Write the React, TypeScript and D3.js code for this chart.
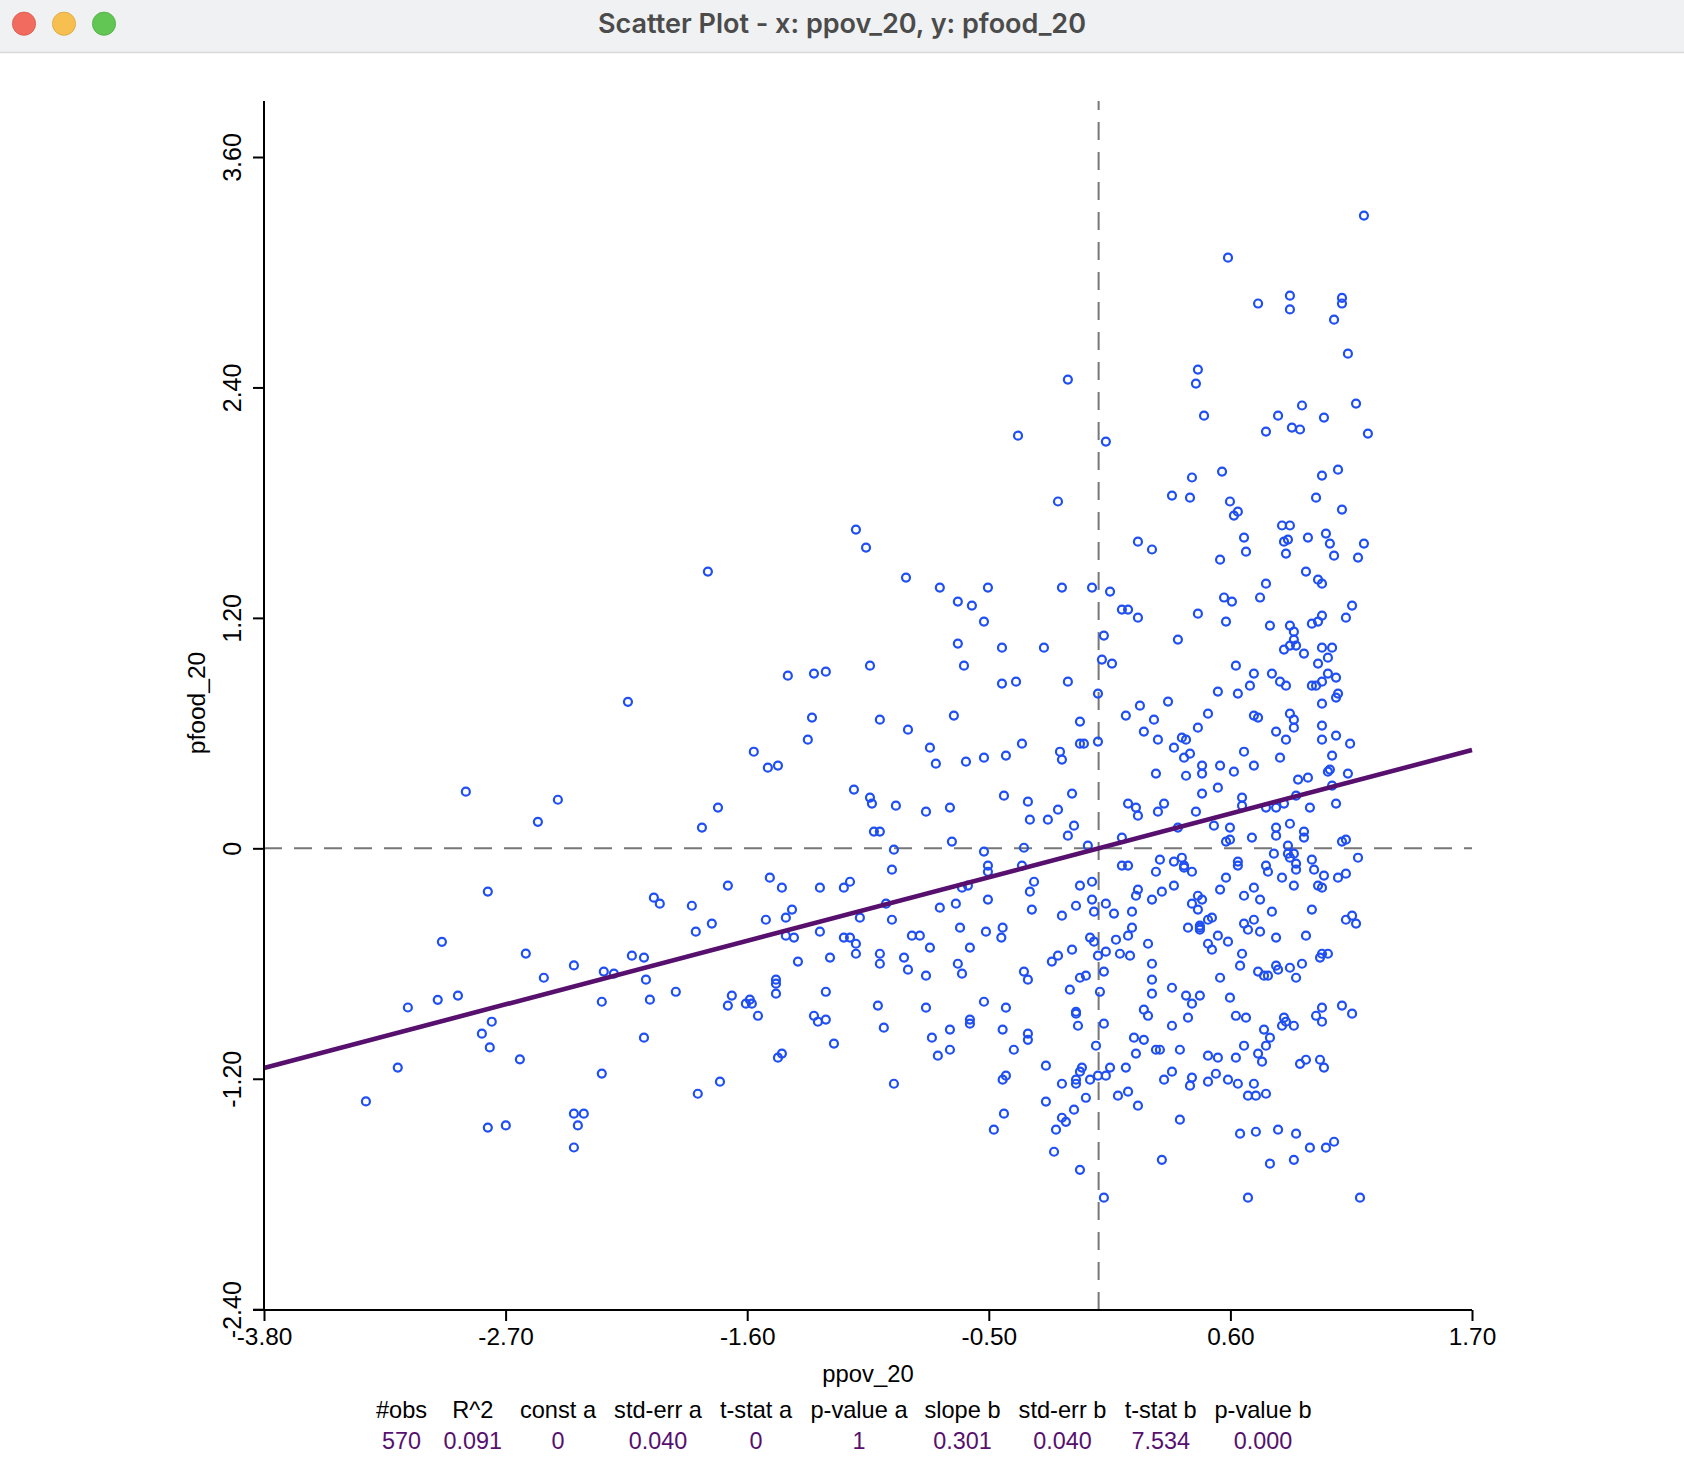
import React, { useEffect, useRef } from 'react';
import * as d3 from 'd3';

const title = 'Scatter Plot - x: ppov_20, y: pfood_20';
const xTicks = [-3.8, -2.7, -1.6, -0.5, 0.6, 1.7];
const yTicks = [-2.4, -1.2, 0, 1.2, 2.4, 3.6];
const statNames = ['#obs', 'R^2', 'const a', 'std-err a', 't-stat a', 'p-value a', 'slope b', 'std-err b', 't-stat b', 'p-value b'];
const statValues = ['570', '0.091', '0', '0.040', '0', '1', '0.301', '0.040', '7.534', '0.000'];
const slope = 0.301;

// [ppov_20, pfood_20]
const observations: [number, number][] = [
  [1.208,3.295],[.589,3.076],[.871,2.878],[.726,2.837],[.871,2.806],[1.108,2.866],[1.108,2.837],[1.072,2.753],[1.135,2.576],[.452,2.493],
  [-.140,2.441],[.443,2.420],[.926,2.306],[1.172,2.316],[.480,2.253],[.817,2.253],[1.026,2.243],[.880,2.191],[.917,2.181],[.762,2.170],
  [1.226,2.160],[-.367,2.149],[.033,2.118],[1.090,1.972],[.562,1.962],[.425,1.931],[1.017,1.941],[.334,1.837],[.416,1.826],[.990,1.826],
  [-.185,1.806],[.598,1.806],[.634,1.753],[.616,1.733],[1.108,1.764],[.835,1.681],[.871,1.681],[1.035,1.639],[.662,1.618],[.844,1.597],
  [.862,1.608],[.953,1.618],[1.053,1.587],[1.208,1.587],[.179,1.597],[.243,1.556],[.671,1.545],[.853,1.535],[1.072,1.524],[1.181,1.514],
  [.553,1.503],[.944,1.441],[.999,1.399],[1.017,1.378],[.762,1.378],[-.167,1.358],[-.030,1.358],[.052,1.337],[.571,1.306],[.607,1.285],
  [.735,1.306],[.106,1.243],[.134,1.243],[.179,1.201],[.452,1.222],[.580,1.181],[1.154,1.264],[1.126,1.201],[1.017,1.212],[.999,1.181],
  [.971,1.170],[.780,1.160],[.871,1.160],[.889,1.128],[.024,1.108],[.361,1.087],[.889,1.087],[.871,1.056],[.899,1.056],[.844,1.035],
  [1.017,1.045],[1.063,1.045],[.935,1.014],[1.044,.993],[.999,.962],[.625,.951],[-.249,1.045],[-.440,1.045],[.015,.983],[.061,.962],
  [.707,.910],[.789,.910],[.826,.868],[.853,.847],[1.044,.910],[1.081,.889],[1.017,.868],[.971,.847],[.990,.847],[.689,.847],
  [-.376,.868],[-.140,.868],[-.440,.858],[.543,.816],[.634,.806],[-.003,.806],[1.090,.806],[1.081,.785],[1.017,.753],[.316,.764],
  [.188,.743],[.124,.691],[.498,.701],[.252,.670],[.707,.691],[.726,.681],[.871,.701],[.889,.670],[-.085,.660],[.889,.628],
  [1.017,.639],[.452,.628],[.206,.608],[.808,.608],[.270,.566],[.379,.576],[.398,.566],[.853,.566],[1.017,.566],[1.081,.587],
  [1.145,.545],[-.349,.545],[-.085,.545],[-.067,.545],[-.003,.556],[.343,.524],[-.176,.503],[.662,.503],[-.422,.483],[.416,.493],
  [.389,.472],[-.167,.462],[.826,.472],[1.063,.483],[.471,.431],[.553,.431],[.707,.431],[.616,.399],[.471,.389],[.398,.378],
  [.261,.389],[1.053,.410],[1.044,.399],[.908,.358],[.953,.368],[1.135,.389],[.543,.316],[.471,.285],[1.063,.326],[-.431,.274],
  [-.121,.285],[.899,.274],[.653,.264],[-.322,.243],[.134,.233],[.298,.233],[.653,.222],[.844,.233],[.170,.212],[.762,.212],
  [.808,.212],[1.081,.233],[.962,.212],[-.185,.201],[.270,.191],[.443,.191],[.179,.170],[-.313,.149],[-.231,.149],[-.112,.118],
  [.525,.118],[.361,.108],[.598,.108],[.871,.128],[.808,.108],[.935,.087],
  [-.140,.066],[.106,.056],[-.049,.014],[-.340,.003],[-.349,-.090],[.808,.066],[.935,.056],[.698,.056],[.598,.045],[.580,.035],
  [1.126,.045],[1.108,.035],[.862,.014],[.798,-.028],[.889,-.028],[.862,-.028],[.871,-.049],[.899,-.080],[.971,-.059],[1.181,-.049],
  [.899,-.111],[.981,-.111],[.762,-.090],[.771,-.122],[.634,-.069],[.634,-.090],[.379,-.049],[.279,-.059],[.343,-.069],[.389,-.090],
  [.389,-.101],[.425,-.122],[.261,-.122],[.106,-.090],[.134,-.090],[1.126,-.132],[1.090,-.153],[1.026,-.142],[.835,-.153],[.580,-.153],
  [.889,-.194],[.999,-.194],[1.017,-.205],[.707,-.205],[.553,-.215],[.343,-.194],[.288,-.226],[.179,-.215],[.170,-.247],[-.030,-.174],
  [-.085,-.194],[-.294,-.174],[-.313,-.226],[.662,-.247],[.452,-.247],[.471,-.267],[.425,-.288],[.243,-.267],[.735,-.267],[-.030,-.267],
  [.033,-.288],[-.103,-.299],[.452,-.319],[-.304,-.319],[.152,-.330],[-.021,-.330],[.070,-.340],[-.167,-.351],[.789,-.330],[.971,-.319],
  [1.154,-.351],[1.126,-.372],[1.172,-.392],[.707,-.372],[.516,-.361],[.498,-.372],[.662,-.392],[.680,-.424],[.461,-.403],[.461,-.413],
  [.461,-.424],[.407,-.413],[.152,-.413],[.735,-.434],[.543,-.455],[.134,-.455],[.808,-.465],[.944,-.455],[-.437,-.413],[-.443,-.465],
  [-.039,-.465],[-.021,-.486],[.079,-.476],[.589,-.486],[.498,-.497],[.225,-.497],[.516,-.528],[-.121,-.528],[.033,-.538],[.097,-.549],
  [.143,-.559],[-.003,-.559],[-.185,-.559],[-.213,-.590],[.653,-.549],[1.044,-.549],[1.017,-.549],[1.008,-.569],[.926,-.601],[.243,-.601],
  [.644,-.611],[.808,-.611],[.817,-.632],[.871,-.622],[.726,-.642],[.753,-.663],[.771,-.663],[.899,-.674],[-.340,-.642],[-.322,-.684],
  [.024,-.642],[-.058,-.663],[-.085,-.674],[.243,-.684],[.553,-.674],[-.131,-.736],[.006,-.747],[.334,-.726],[.243,-.757],[.398,-.767],
  [.461,-.767],[.598,-.778],[.425,-.809],[-.422,-.830],[.206,-.840],[.225,-.872],[.407,-.882],[-.103,-.851],[-.103,-.861],[.625,-.872],
  [.671,-.882],[.844,-.882],[.853,-.903],[.835,-.924],[.889,-.924],[1.017,-.830],[.990,-.872],[1.017,-.903],[1.108,-.819],[1.154,-.861],
  [-.094,-.924],[.024,-.913],[.334,-.924],[-.437,-.944],[.753,-.944],[.780,-.986],[-.322,-.965],[-.322,-.997],[.161,-.986],[.206,-.997],
  [.762,-1.028],[.662,-1.028],[-.012,-1.028],[-.386,-1.049],[.261,-1.049],[.279,-1.049],[.370,-1.049],[.170,-1.069],[.726,-1.069],[.498,-1.080],
  [.543,-1.090],[.625,-1.090],[.744,-1.111],[.917,-1.122],[.944,-1.101],[1.008,-1.101],[1.026,-1.142],[-.240,-1.132],[-.076,-1.142],[-.085,-1.163],
  [.052,-1.142],[.124,-1.142],[-.422,-1.184],[-.437,-1.205],[-.103,-1.205],[-.003,-1.184],[.033,-1.184],[-.039,-1.205],[-.167,-1.226],[-.103,-1.226],
  [.334,-1.163],[.298,-1.205],[.425,-1.194],[.416,-1.236],[.498,-1.215],[.534,-1.174],[.589,-1.205],[.634,-1.226],[.707,-1.226],[.680,-1.288],
  [.716,-1.288],[.762,-1.278],[-.058,-1.299],[.088,-1.288],[.134,-1.267],[.179,-1.340],[-.240,-1.319],[-.112,-1.361],[-.431,-1.382],[-.167,-1.403],
  [-.149,-1.424],[-.194,-1.465],[.370,-1.413],[.644,-1.486],[.716,-1.476],[.817,-1.465],[.899,-1.486],[.962,-1.559],[1.035,-1.559],[1.072,-1.528],
  [-.203,-1.580],[.288,-1.622],[.780,-1.642],[.889,-1.622],[-.085,-1.674],[.024,-1.819],[.680,-1.819],[1.190,-1.819],
  [-1.105,1.660],[-1.059,1.566],[-1.779,1.441],[-.877,1.410],[-.723,1.358],[-.504,1.358],[-.641,1.285],[-.577,1.264],[-.522,1.181],[-.641,1.066],
  [-1.041,.951],[-.613,.951],[-1.415,.899],[-1.296,.910],[-1.242,.920],[-.659,.691],[-1.305,.681],[-.996,.670],[-.868,.618],[-1.324,.566],
  [-.768,.524],[-1.570,.503],[-1.506,.420],[-1.460,.431],[-.741,.441],[-.604,.451],[-.522,.472],[-1.114,.306],[-1.041,.264],[-1.032,.233],
  [-.923,.222],[-.786,.191],[-.677,.212],[-1.733,.212],[-1.806,.108],[-1.023,.087],[-.996,.087],[-.668,.035],[-.932,-.007],[-.522,-.017],
  [-.941,-.111],[-.504,-.090],[-.504,-.122],[-2.025,-.257],[-1.998,-.288],[-1.688,-.194],[-1.497,-.153],[-1.442,-.205],[-1.269,-.205],[-1.160,-.205],
  [-1.132,-.174],[-1.852,-.299],[-.622,-.205],[-.595,-.194],[-.968,-.288],[-.650,-.288],[-.723,-.309],[-.504,-.267],[-1.396,-.319],[-1.424,-.361],
  [-1.515,-.372],[-1.087,-.361],[-1.761,-.392],[-1.834,-.434],[-.941,-.372],[-1.269,-.434],[-1.424,-.455],[-1.387,-.465],[-1.160,-.465],[-1.132,-.465],
  [-1.105,-.497],[-.850,-.455],[-.814,-.455],[-.631,-.413],[-.513,-.434],[-2.070,-.569],[-2.061,-.684],[-1.105,-.549],[-.996,-.549],[-1.223,-.569],
  [-.886,-.569],[-.768,-.517],[-.586,-.517],[-1.369,-.590],[-.996,-.601],[-.868,-.632],[-.641,-.601],[-.622,-.653],[-.786,-.663],[-1.469,-.684],
  [-1.469,-.705],[-1.469,-.757],[-1.242,-.747],[-1.925,-.747],[-2.043,-.788],[-1.670,-.767],[-1.688,-.819],[-1.588,-.788],[-1.606,-.809],[-1.579,-.809],
  [-1.551,-.872],[-1.296,-.872],[-1.278,-.903],[-1.242,-.892],[-1.005,-.819],[-.786,-.830],[-.522,-.799],[-.978,-.934],[-.677,-.944],[-.586,-.892],
  [-.586,-.913],[-2.070,-.986],[-1.205,-1.017],[-.759,-.986],[-.677,-1.049],[-.732,-1.080],[-1.442,-1.069],[-1.460,-1.090],[-1.724,-1.215],[-1.825,-1.278],
  [-.932,-1.226],[-.477,-1.465],
  [-2.143,.763],[-2.881,.295],[-2.462,.253],[-2.553,.138],[-2.781,-.225],[-2.990,-.487],[-2.608,-.548],[-2.526,-.674],[-2.389,-.610],[-2.253,-.642],
  [-2.207,-.653],[-2.125,-.559],[-3.145,-.829],[-3.009,-.789],[-2.917,-.767],[-2.763,-.903],[-2.808,-.965],[-2.772,-1.037],[-2.635,-1.099],[-3.191,-1.142],
  [-3.336,-1.318],[-2.262,-.799],[-2.262,-1.173],[-2.389,-1.382],[-2.344,-1.382],[-2.371,-1.443],[-2.389,-1.558],[-2.781,-1.454],[-2.699,-1.443],
];

const statCenters = [401.6, 472.8, 558, 658, 756, 859, 962.5, 1062.5, 1160.7, 1263];

const App: React.FC = () => {
  const svgRef = useRef<SVGSVGElement>(null);

  useEffect(() => {
    if (!svgRef.current) return;
    const svg = d3.select(svgRef.current);
    svg.selectAll('*').remove();
    const font = '"Liberation Sans", Arial, sans-serif';

    // Window title bar
    svg.append('rect').attr('width', 1684).attr('height', 52).attr('fill', '#f0f1f2');
    svg.append('line').attr('x1', 0).attr('x2', 1684).attr('y1', 52.5).attr('y2', 52.5)
      .attr('stroke', '#d9d9d9').attr('stroke-width', 1.5);
    [['#f26b5f', '#d9564b', 24], ['#f6bf50', '#dba53f', 64], ['#61c654', '#4fae44', 104]].forEach(([f, s, cx]) => {
      svg.append('circle').attr('cx', cx as number).attr('cy', 23.7).attr('r', 11.6)
        .attr('fill', f as string).attr('stroke', s as string).attr('stroke-width', 0.8);
    });
    svg.append('text').attr('x', 842).attr('y', 33).attr('text-anchor', 'middle')
      .attr('font-family', 'Inter, sans-serif').attr('font-weight', 600).attr('font-size', 27)
      .attr('fill', '#4b4b4b').text(title);

    const x = d3.scaleLinear().domain([-3.8, 1.7]).range([264, 1472]);
    const y = d3.scaleLinear().domain([-2.4, 3.6]).range([1309.2, 157]);
    const yTop = 101;
    const xAxisY = 1310;

    // Dashed zero lines (the vertical one is stroked from the bottom up)
    const zeroG = svg.append('g').attr('stroke', '#777').attr('stroke-width', 2).attr('stroke-dasharray', '18 12');
    zeroG.append('line').attr('x1', x(-3.8)).attr('x2', x(1.7)).attr('y1', y(0)).attr('y2', y(0));
    zeroG.append('line').attr('x1', x(0)).attr('x2', x(0)).attr('y1', xAxisY).attr('y2', yTop);

    // Points
    svg.append('g').selectAll('circle')
      .data(observations)
      .enter()
      .append('circle')
      .attr('cx', d => x(d[0]))
      .attr('cy', d => y(d[1]))
      .attr('r', 4)
      .attr('fill', 'none')
      .attr('stroke', '#1f4ff2')
      .attr('stroke-width', 2.2);

    // Regression line
    svg.append('line')
      .attr('x1', x(-3.8)).attr('y1', y(slope * -3.8))
      .attr('x2', x(1.7)).attr('y2', y(slope * 1.7))
      .attr('stroke', '#57106e').attr('stroke-width', 4.6);

    const fmt = (v: number) => (v === 0 ? '0' : v.toFixed(2));

    // Axes
    const xAxis = svg.append('g').attr('transform', `translate(0,${xAxisY})`)
      .call(d3.axisBottom(x).tickValues(xTicks).tickSize(11).tickPadding(7).tickFormat(d => fmt(d as number)));
    const yAxis = svg.append('g').attr('transform', 'translate(264,0)')
      .call(d3.axisLeft(y).tickValues(yTicks).tickSize(11).tickPadding(7).tickFormat(d => fmt(d as number)));
    yAxis.select('.domain').attr('d', `M0,${yTop}V${xAxisY}`);
    xAxis.select('.domain').attr('d', 'M253,0H1472');
    [xAxis, yAxis].forEach(a => {
      a.selectAll('.domain, line').attr('stroke', '#000').attr('stroke-width', 2);
      a.selectAll('text').attr('font-family', font).attr('fill', '#000');
    });
    xAxis.selectAll('text').attr('font-size', 24.4).attr('dy', null).attr('y', 35);
    yAxis.selectAll('text')
      .attr('font-size', 25)
      .attr('text-anchor', 'middle').attr('dy', null).attr('x', 0).attr('y', 0)
      .attr('transform', 'translate(-23,0) rotate(-90)');

    // Axis titles
    svg.append('text').attr('x', 868).attr('y', 1381.5).attr('text-anchor', 'middle')
      .attr('font-family', font).attr('font-size', 23.8).text('ppov_20');
    svg.append('text').attr('transform', 'translate(205,703) rotate(-90)').attr('text-anchor', 'middle')
      .attr('font-family', font).attr('font-size', 24.6).text('pfood_20');

    // Regression stats
    statNames.forEach((s, i) => {
      svg.append('text').attr('x', statCenters[i]).attr('y', 1418).attr('text-anchor', 'middle')
        .attr('font-family', font).attr('font-size', 23.6).attr('fill', '#000').text(s);
      svg.append('text').attr('x', statCenters[i]).attr('y', 1449).attr('text-anchor', 'middle')
        .attr('font-family', font).attr('font-size', 23.4).attr('fill', '#57106e').text(statValues[i]);
    });
  }, []);

  return (
    <svg ref={svgRef} width={1684} height={1482} viewBox="0 0 1684 1482"
      style={{ position: 'absolute', left: 0, top: 0, background: '#fff' }} />
  );
};

export default App;
